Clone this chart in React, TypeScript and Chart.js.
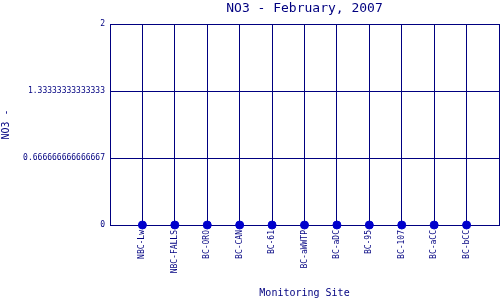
import React, { useEffect, useRef } from "react";
import { Chart, registerables } from "chart.js";

Chart.register(...registerables);

const chartTitle = "NO3 - February, 2007";
const xAxisTitle = "Monitoring Site";
const yAxisTitle = "NO3 -";
const sites = ["NBC-Lw", "NBC-FALLS", "BC-ORO", "BC-CAN", "BC-61", "BC-aWWTP", "BC-aDC", "BC-95", "BC-107", "BC-aCC", "BC-bCC"];
const no3Values = [0, 0, 0, 0, 0, 0, 0, 0, 0, 0, 0];
const yTickValues = [0, 0.6666666666666667, 1.3333333333333333, 2];
const yTickLabels = ["0", "0.666666666666667", "1.33333333333333", "2"];

const NAVY = "#000080";
const POINT = "#0000CC";
const FONT = "'DejaVu Sans Mono', monospace";

export default function App() {
  const ref = useRef<HTMLCanvasElement | null>(null);
  useEffect(() => {
    if (!ref.current) return;
    const labels = ["", ...sites, ""];
    const data = [null, ...no3Values, null];
    const chart = new Chart(ref.current, {
      type: "line",
      data: {
        labels,
        datasets: [
          {
            data,
            showLine: false,
            pointRadius: 4,
            pointHoverRadius: 4,
            pointBackgroundColor: POINT,
            pointBorderColor: POINT,
            borderColor: POINT,
            clip: false as any,
            xAxisID: "x",
            yAxisID: "y",
          },
        ],
      },
      options: {
        responsive: false,
        animation: false,
        layout: { autoPadding: false, padding: { left: 0, right: 1, top: 0, bottom: 0 } },
        plugins: { legend: { display: false }, tooltip: { enabled: false }, title: { display: false } },
        scales: {
          x: {
            type: "category",
            position: "bottom",
            offset: false,
            grid: { color: NAVY, lineWidth: 1, drawTicks: false },
            border: { color: NAVY },
            ticks: {
              autoSkip: false,
              minRotation: 90,
              maxRotation: 90,
              padding: 5,
              color: NAVY,
              font: { family: FONT, size: 8 },
            },
            title: {
              display: true,
              text: xAxisTitle,
              color: NAVY,
              font: { family: FONT, size: 10 },
              padding: { top: 0, bottom: 1 },
            },
            afterFit: (s: any) => {
              s.height = 75;
              s.paddingLeft = 0;
              s.paddingRight = 0;
            },
          },
          xTop: {
            type: "linear",
            position: "top",
            grid: { display: false, drawTicks: false },
            border: { display: false },
            ticks: { display: false },
            title: {
              display: true,
              text: chartTitle,
              color: NAVY,
              font: { family: FONT, size: 13 },
              padding: { top: 1, bottom: 0 },
            },
            afterFit: (s: any) => {
              s.height = 24;
              s.paddingLeft = 0;
              s.paddingRight = 0;
            },
          },
          y: {
            type: "linear",
            min: 0,
            max: 2,
            grid: { color: NAVY, lineWidth: 1, drawTicks: false },
            border: { color: NAVY },
            afterBuildTicks: (s: any) => {
              s.ticks = yTickValues.map((v) => ({ value: v }));
            },
            ticks: {
              padding: 5,
              color: NAVY,
              font: { family: FONT, size: 8 },
              callback: (_v: any, i: number) => yTickLabels[i],
            },
            title: {
              display: true,
              text: yAxisTitle,
              color: NAVY,
              font: { family: FONT, size: 10 },
              padding: { top: 0, bottom: 0 },
            },
            afterFit: (s: any) => {
              s.width = 110;
              s.paddingTop = 0;
              s.paddingBottom = 0;
            },
          },
        },
      },
    });
    return () => chart.destroy();
  }, []);
  return (
    <div style={{ position: "fixed", left: 0, top: 0, width: 500, height: 300, background: "#fff" }}>
      <canvas ref={ref} width={500} height={300} />
    </div>
  );
}
